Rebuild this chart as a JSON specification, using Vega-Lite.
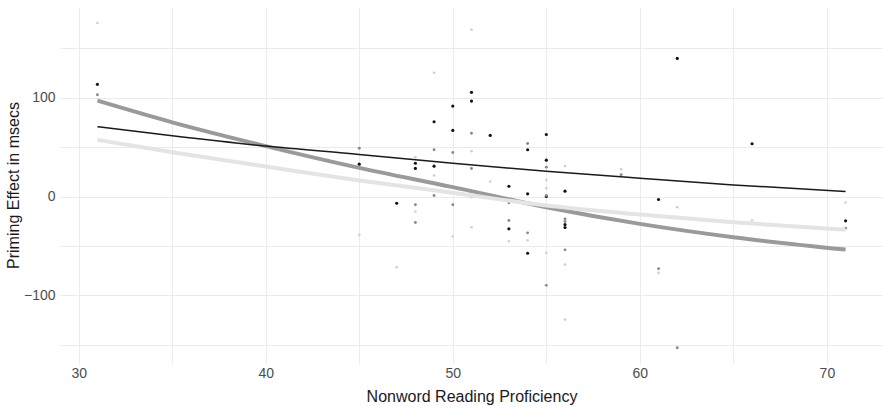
{
  "$schema": "https://vega.github.io/schema/vega-lite/v6.json",
  "width": 823,
  "height": 356,
  "autosize": {"type": "none"},
  "padding": {"left": 60, "top": 7, "right": 0, "bottom": 49},
  "background": "white",
  "config": {
    "view": {"stroke": null},
    "axis": {
      "labelFont": "Liberation Sans",
      "titleFont": "Liberation Sans",
      "labelFontSize": 14,
      "titleFontSize": 16,
      "titleFontWeight": "normal",
      "labelColor": "#4d4d4d",
      "titleColor": "#1a1a1a",
      "gridColor": "#ebebeb",
      "gridWidth": 1,
      "ticks": false,
      "domain": false
    }
  },
  "datasets": {
    "points": [
      {"x": 31, "y": 113.5, "cond": "A"}, {"x": 31, "y": 103, "cond": "B"}, {"x": 31, "y": 175.6, "cond": "C"},
      {"x": 45, "y": 32.7, "cond": "A"}, {"x": 45, "y": 48.9, "cond": "B"}, {"x": 45, "y": -38.8, "cond": "C"},
      {"x": 47, "y": -6.8, "cond": "A"}, {"x": 47, "y": -71.6, "cond": "C"},
      {"x": 48, "y": 33.7, "cond": "A"}, {"x": 48, "y": 28.4, "cond": "A"}, {"x": 48, "y": -8.4, "cond": "B"}, {"x": 48, "y": -26.3, "cond": "B"}, {"x": 48, "y": 39.8, "cond": "C"}, {"x": 48, "y": -15.2, "cond": "C"},
      {"x": 49, "y": 75.7, "cond": "A"}, {"x": 49, "y": 30.7, "cond": "A"}, {"x": 49, "y": 47.3, "cond": "B"}, {"x": 49, "y": 1.0, "cond": "B"}, {"x": 49, "y": 125.3, "cond": "C"}, {"x": 49, "y": 21.3, "cond": "C"},
      {"x": 50, "y": 91.5, "cond": "A"}, {"x": 50, "y": 66.9, "cond": "A"}, {"x": 50, "y": 44.6, "cond": "B"}, {"x": 50, "y": -8.4, "cond": "B"}, {"x": 50, "y": -40.5, "cond": "C"},
      {"x": 51, "y": 105.4, "cond": "A"}, {"x": 51, "y": 96.6, "cond": "A"}, {"x": 51, "y": 64.1, "cond": "B"}, {"x": 51, "y": 28.4, "cond": "B"}, {"x": 51, "y": 168.9, "cond": "C"}, {"x": 51, "y": 45.9, "cond": "C"}, {"x": 51, "y": -0.7, "cond": "C"}, {"x": 51, "y": -31.1, "cond": "C"},
      {"x": 52, "y": 61.8, "cond": "A"}, {"x": 52, "y": 15.2, "cond": "C"},
      {"x": 53, "y": 10.4, "cond": "A"}, {"x": 53, "y": -32.7, "cond": "A"}, {"x": 53, "y": -6.4, "cond": "B"}, {"x": 53, "y": -24.3, "cond": "B"}, {"x": 53, "y": -45.3, "cond": "C"},
      {"x": 54, "y": 47.3, "cond": "A"}, {"x": 54, "y": 2.7, "cond": "A"}, {"x": 54, "y": -57.4, "cond": "A"}, {"x": 54, "y": 53.7, "cond": "B"}, {"x": 54, "y": -36.8, "cond": "B"}, {"x": 54, "y": -44.3, "cond": "C"},
      {"x": 55, "y": 62.8, "cond": "A"}, {"x": 55, "y": 36.8, "cond": "A"}, {"x": 55, "y": 0, "cond": "A"}, {"x": 55, "y": 29.7, "cond": "B"}, {"x": 55, "y": 1.0, "cond": "B"}, {"x": 55, "y": -89.9, "cond": "B"}, {"x": 55, "y": 16.9, "cond": "C"}, {"x": 55, "y": 8.4, "cond": "C"}, {"x": 55, "y": -57, "cond": "C"},
      {"x": 56, "y": 5.4, "cond": "A"}, {"x": 56, "y": -28.4, "cond": "A"}, {"x": 56, "y": -31.4, "cond": "A"}, {"x": 56, "y": -22.6, "cond": "B"}, {"x": 56, "y": -25.3, "cond": "B"}, {"x": 56, "y": -54, "cond": "B"}, {"x": 56, "y": 30.7, "cond": "C"}, {"x": 56, "y": -68.9, "cond": "C"}, {"x": 56, "y": -124.6, "cond": "C"},
      {"x": 59, "y": 22, "cond": "B"}, {"x": 59, "y": 27.7, "cond": "C"},
      {"x": 61, "y": -3, "cond": "A"}, {"x": 61, "y": -73, "cond": "B"}, {"x": 61, "y": -77.3, "cond": "C"},
      {"x": 62, "y": 139.8, "cond": "A"}, {"x": 62, "y": -153, "cond": "B"}, {"x": 62, "y": -10.8, "cond": "C"},
      {"x": 66, "y": 53.4, "cond": "A"}, {"x": 66, "y": -24.3, "cond": "C"},
      {"x": 71, "y": -24.6, "cond": "A"}, {"x": 71, "y": -32.1, "cond": "B"}, {"x": 71, "y": -6.1, "cond": "C"}
    ],
    "lines": [
      {"x": 31, "y": 70.6, "cond": "A"}, {"x": 35, "y": 61.4, "cond": "A"}, {"x": 40, "y": 51.0, "cond": "A"}, {"x": 45, "y": 42.6, "cond": "A"}, {"x": 50, "y": 33.6, "cond": "A"}, {"x": 55, "y": 25.6, "cond": "A"}, {"x": 60, "y": 18.5, "cond": "A"}, {"x": 65, "y": 11.7, "cond": "A"}, {"x": 71, "y": 5.1, "cond": "A"},
      {"x": 31, "y": 97, "cond": "B"}, {"x": 35, "y": 75.1, "cond": "B"}, {"x": 40, "y": 51, "cond": "B"}, {"x": 45, "y": 29, "cond": "B"}, {"x": 50, "y": 9.5, "cond": "B"}, {"x": 55, "y": -10.8, "cond": "B"}, {"x": 60, "y": -27.7, "cond": "B"}, {"x": 65, "y": -41.2, "cond": "B"}, {"x": 71, "y": -53.7, "cond": "B"},
      {"x": 31, "y": 57.4, "cond": "C"}, {"x": 35, "y": 44.8, "cond": "C"}, {"x": 40, "y": 30.4, "cond": "C"}, {"x": 45, "y": 16.2, "cond": "C"}, {"x": 50, "y": 3.8, "cond": "C"}, {"x": 55, "y": -9.1, "cond": "C"}, {"x": 60, "y": -18.2, "cond": "C"}, {"x": 65, "y": -26, "cond": "C"}, {"x": 71, "y": -33.7, "cond": "C"}
    ]
  },
  "encoding": {
    "x": {
      "field": "x", "type": "quantitative",
      "scale": {"domain": [29, 73], "nice": false, "zero": false},
      "axis": {
        "values": [30, 35, 40, 45, 50, 55, 60, 65, 70],
        "labelExpr": "datum.value % 10 === 0 ? datum.label : ''",
        "title": "Nonword Reading Proficiency",
        "labelPadding": 3,
        "titlePadding": 8
      }
    },
    "y": {
      "field": "y", "type": "quantitative",
      "scale": {"domain": [-168.5, 191.8], "nice": false, "zero": false},
      "axis": {
        "values": [-150, -100, -50, 0, 50, 100, 150],
        "labelExpr": "datum.value % 100 === 0 ? datum.label : ''",
        "title": "Priming Effect in msecs",
        "labelPadding": 5,
        "titlePadding": 2
      }
    }
  },
  "layer": [
    {
      "data": {"name": "points"},
      "mark": {"type": "circle", "opacity": 1},
      "encoding": {
        "color": {"field": "cond", "type": "nominal", "scale": {"domain": ["A", "B", "C"], "range": ["#111111", "#8a8a8a", "#cfcfcf"]}, "legend": null},
        "size": {"field": "cond", "type": "nominal", "scale": {"domain": ["A", "B", "C"], "range": [10, 7, 7]}, "legend": null}
      }
    },
    {
      "data": {"name": "lines"},
      "transform": [{"filter": "datum.cond === 'B'"}],
      "mark": {"type": "line", "interpolate": "monotone", "color": "#9a9a9a", "strokeWidth": 4},
      "encoding": {}
    },
    {
      "data": {"name": "lines"},
      "transform": [{"filter": "datum.cond === 'C'"}],
      "mark": {"type": "line", "interpolate": "monotone", "color": "#e4e4e4", "strokeWidth": 4},
      "encoding": {}
    },
    {
      "data": {"name": "lines"},
      "transform": [{"filter": "datum.cond === 'A'"}],
      "mark": {"type": "line", "interpolate": "monotone", "color": "#1a1a1a", "strokeWidth": 1.5},
      "encoding": {}
    }
  ]
}
